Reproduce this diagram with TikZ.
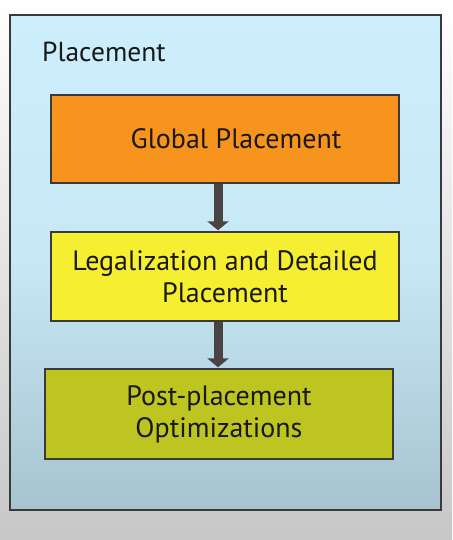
\documentclass[tikz,border=0pt]{standalone}
\usepackage{fontspec}
\setmainfont{PT Sans}
\usetikzlibrary{arrows.meta}
\definecolor{framecol}{HTML}{3A3A3A}
\definecolor{bluetop}{HTML}{CDEEFC}
\definecolor{bluebot}{HTML}{A7C3CF}
\definecolor{orangefill}{HTML}{F7941E}
\definecolor{yellowfill}{HTML}{F6EE30}
\definecolor{olivefill}{HTML}{BEC420}
\definecolor{arrowcol}{HTML}{4A4343}
\tikzset{
  stepbox/.style={draw=framecol, line width=1.3pt, minimum width=348pt, inner sep=0pt, align=center, font=\fontsize{28}{32}\selectfont, text=black!90},
  flowarrow/.style={draw=arrowcol, line width=9pt, -{Triangle[width=21pt,length=9pt]}, shorten >=1pt}
}
\begin{document}
\begin{tikzpicture}[x=1pt,y=1pt]
\shade[top color=white, bottom color=black!22] (0,0) rectangle (452,540);
\useasboundingbox (0,0) rectangle (452,540);
\node[draw=framecol, line width=1.3pt, top color=bluetop, bottom color=bluebot, middle color=bluetop!85!bluebot, minimum width=431pt, minimum height=495pt, inner sep=0pt] (outer) at (225.5,277.5) {};
\node[anchor=base west, inner sep=0pt, font=\fontsize{27.5}{30}\selectfont, text=black!90] (title) at (42,478) {Placement};
\node[stepbox, fill=orangefill, minimum height=88pt] (gp) at (225,401) {\hspace*{22pt}Global Placement};
\node[stepbox, fill=yellowfill, minimum height=89pt] (ld) at (225,263.5) {Legalization and Detailed\\Placement};
\node[stepbox, fill=olivefill, minimum height=90pt] (po) at (219,126) {Post-placement\\Optimizations};
\draw[flowarrow] (gp.south -| 218,0) -- (ld.north -| 218,0);
\draw[flowarrow] (ld.south -| 218,0) -- (po.north -| 218,0);
\end{tikzpicture}
\end{document}
